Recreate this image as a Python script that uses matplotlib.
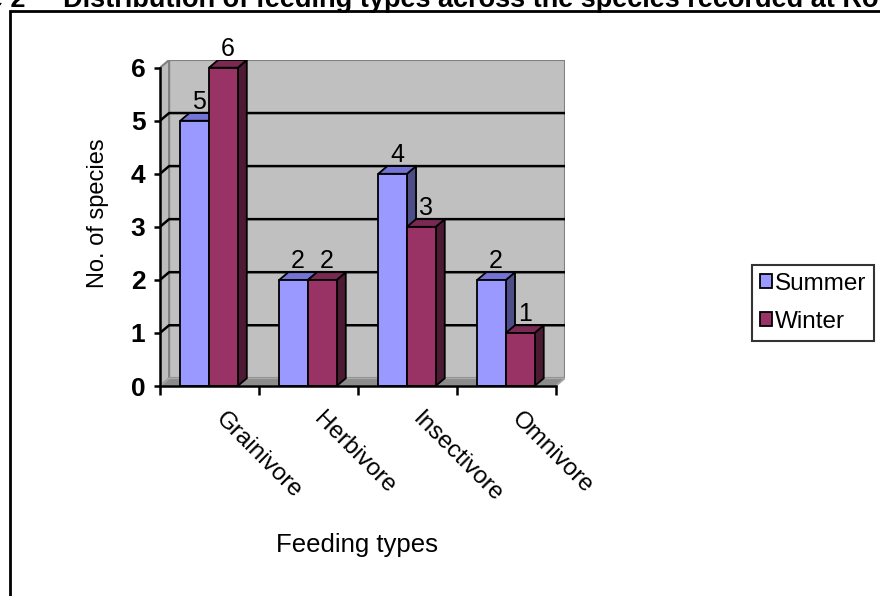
import matplotlib
matplotlib.use("Agg")
import matplotlib.pyplot as plt
from matplotlib.patches import Polygon, Rectangle, Patch

plt.rcParams['font.family'] = ['Liberation Sans', 'DejaVu Sans']

categories = ["Grainivore", "Herbivore", "Insectivore", "Omnivore"]
series_names = ["Summer", "Winter"]
summer = [5, 2, 4, 2]
winter = [6, 2, 3, 1]
y_ticks = [0, 1, 2, 3, 4, 5, 6]

front_colors = {"Summer": "#9999ff", "Winter": "#993366"}
top_colors = {"Summer": "#7474d6", "Winter": "#7a2952"}
side_colors = {"Summer": "#4d4d88", "Winter": "#4d1a33"}

W, H = 880, 596
fig = plt.figure(figsize=(W / 100, H / 100), dpi=100)

# depth offset of the pseudo-3D box, in data units
DX, DY = 0.092, 0.145
YMAX = 6
XMAX = len(categories)

ax_left, ax_right, ax_bottom, ax_top = 160, 565, 386, 60
ax = fig.add_axes([ax_left / W, 1 - ax_bottom / H,
                   (ax_right - ax_left) / W, (ax_bottom - ax_top) / H])
ax.set_xlim(0, XMAX + DX)
ax.set_ylim(0, YMAX + DY)
ax.set_facecolor("none")

wall = "#c0c0c0"
edge = "#808080"
# back wall, side wall and floor
ax.add_patch(Polygon([(DX, DY), (XMAX + DX, DY), (XMAX + DX, YMAX + DY), (DX, YMAX + DY)],
                     closed=True, facecolor=wall, edgecolor=edge, lw=1.5, zorder=0))
ax.add_patch(Polygon([(0, 0), (DX, DY), (DX, YMAX + DY), (0, YMAX)],
                     closed=True, facecolor="#bdbdbd", edgecolor=edge, lw=1.5, zorder=0.2))
ax.add_patch(Polygon([(0, 0), (XMAX, 0), (XMAX + DX, DY), (DX, DY)],
                     closed=True, facecolor="#8c8c8c", edgecolor="#a8a8a8", lw=1.2, zorder=0.3))

# gridlines across the side wall and the back wall
for v in y_ticks[1:-1]:
    ax.plot([0, DX, XMAX + DX], [v, v + DY, v + DY], color="black", lw=1.8,
            zorder=1, solid_capstyle="butt")

bar_w = 0.29
centre_shift = 0.495


def draw_bar(x0, v, name):
    ax.add_patch(Polygon([(x0 + bar_w, 0), (x0 + bar_w + DX, DY),
                          (x0 + bar_w + DX, v + DY), (x0 + bar_w, v)],
                         closed=True, facecolor=side_colors[name], edgecolor="black",
                         lw=1.3, zorder=3, joinstyle="miter"))
    ax.add_patch(Polygon([(x0, v), (x0 + bar_w, v), (x0 + bar_w + DX, v + DY), (x0 + DX, v + DY)],
                         closed=True, facecolor=top_colors[name], edgecolor="black",
                         lw=1.3, zorder=3, joinstyle="miter"))
    ax.add_patch(Rectangle((x0, 0), bar_w, v, facecolor=front_colors[name],
                           edgecolor="black", lw=1.3, zorder=3, joinstyle="miter"))
    ax.annotate(str(v), (x0 + bar_w / 2 + DX / 2, v + DY), xytext=(0, 3),
                textcoords="offset points", ha="center", va="baseline",
                fontsize=18, zorder=5, annotation_clip=False)


for i, (s, w) in enumerate(zip(summer, winter)):
    c = i + centre_shift
    draw_bar(c - bar_w, s, "Summer")
    draw_bar(c, w, "Winter")

# axes
for side in ("top", "right"):
    ax.spines[side].set_visible(False)
for side in ("left", "bottom"):
    ax.spines[side].set_linewidth(1.8)
    ax.spines[side].set_zorder(4)
ax.spines["left"].set_bounds(0, YMAX)
ax.spines["bottom"].set_bounds(0, XMAX)

ax.set_yticks(y_ticks)
ax.set_yticklabels([str(t) for t in y_ticks], fontsize=19, fontweight="bold")
ax.tick_params(axis="y", direction="out", length=4.5, width=1.8, pad=6)
ax.set_xticks(range(XMAX + 1))
ax.set_xticklabels([])
ax.tick_params(axis="x", direction="out", length=6.5, width=1.8)

for i, name in enumerate(categories):
    ax.text(i + 0.5 + 0.17, -0.42, name, rotation=-45, rotation_mode="anchor",
            ha="left", va="top", fontsize=17.5, clip_on=False)

ax.set_ylabel("No. of species", fontsize=17)
ax.yaxis.set_label_coords((109 - ax_left) / (ax_right - ax_left),
                          (ax_bottom - 213) / (ax_bottom - ax_top))
ax.set_xlabel("Feeding types", fontsize=18.5)
ax.xaxis.set_label_coords((357 - ax_left) / (ax_right - ax_left),
                          (ax_bottom - 533) / (ax_bottom - ax_top))

handles = [Patch(facecolor=front_colors[n], edgecolor="black", lw=1.3) for n in series_names]
leg = fig.legend(handles, series_names, loc="upper left",
                 bbox_to_anchor=(752 / W, 1 - 265 / H), fontsize=17.5,
                 frameon=True, fancybox=False, edgecolor="black",
                 handlelength=0.5, handleheight=0.5, handletextpad=0.1,
                 borderpad=0.33, labelspacing=0.65, borderaxespad=0)
leg.get_frame().set_linewidth(1.5)

# outer frame and heading
fig.patches.append(Rectangle((10 / W, -0.1), 1.2, 1.1 - 11 / H, transform=fig.transFigure,
                             fill=False, edgecolor="black", lw=2))
fig.text(26 / W, 1 - 7 / H, "Figure 2", ha="right", va="baseline",
         fontsize=19.5, fontweight="bold")
fig.text(63 / W, 1 - 7 / H,
         "Distribution of feeding types across the species recorded at Rottnest Island",
         ha="left", va="baseline", fontsize=19.5, fontweight="bold")

fig.savefig("out.png", dpi=100)
